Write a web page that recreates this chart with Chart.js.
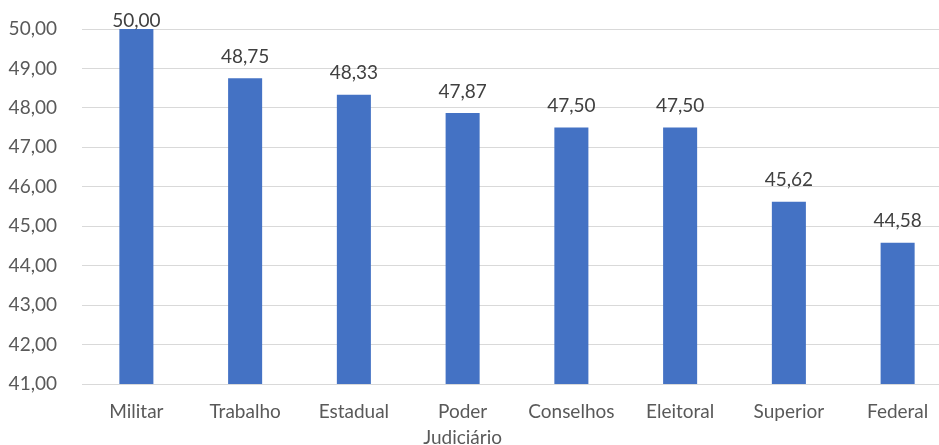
<!DOCTYPE html>
<html>
<head>
<meta charset="utf-8">
<script src="https://cdn.jsdelivr.net/npm/chart.js@4/dist/chart.umd.min.js"></script>
<style>
html,body{margin:0;padding:0;background:#fff;overflow:hidden;width:939px;height:445px;}
#wrap{position:absolute;left:0;top:0;width:952px;height:445px;}
</style>
</head>
<body>
<div id="wrap"><canvas id="c"></canvas></div>
<script>
const categories = ["Militar", "Trabalho", "Estadual", ["Poder", "Judiciário"], "Conselhos", "Eleitoral", "Superior", "Federal"];
const values = [50.00, 48.75, 48.33, 47.87, 47.50, 47.50, 45.62, 44.58];
const yMin = 41;
const yMax = 50;
const yStep = 1;

const fmt = v => v.toFixed(2).replace('.', ',');
const FONT = "Lato, 'Open Sans', sans-serif";

const labelPlugin = {
  id: 'barLabels',
  afterDatasetsDraw(chart) {
    const ctx = chart.ctx;
    const meta = chart.getDatasetMeta(0);
    ctx.save();
    ctx.font = "19px " + FONT;
    ctx.fillStyle = '#404040';
    ctx.textAlign = 'center';
    ctx.textBaseline = 'bottom';
    meta.data.forEach((bar, i) => {
      let y = bar.y - 12;
      if (y < 30) y = 30;
      ctx.fillText(fmt(values[i]), bar.x, y);
    });
    ctx.restore();
  }
};

new Chart(document.getElementById('c'), {
  type: 'bar',
  data: {
    labels: categories,
    datasets: [{
      data: values,
      backgroundColor: '#4472C4',
      borderWidth: 0,
      categoryPercentage: 1,
      barPercentage: 0.313
    }]
  },
  options: {
    responsive: true,
    maintainAspectRatio: false,
    animation: false,
    events: [],
    layout: { padding: { top: 29, right: 0, left: 0, bottom: 0 } },
    plugins: { legend: { display: false }, tooltip: { enabled: false } },
    scales: {
      x: {
        grid: { display: false, drawTicks: false },
        border: { display: false },
        ticks: {
          color: '#595959',
          font: { family: FONT, size: 19, lineHeight: 1.35 },
          padding: 15,
          maxRotation: 0,
          autoSkip: false
        },
        afterFit(scale) { scale.height = 61; scale.paddingLeft = 0; scale.paddingRight = 0; }
      },
      y: {
        min: yMin,
        max: yMax,
        grid: { color: '#d9d9d9', lineWidth: 1, drawTicks: false },
        border: { display: false },
        ticks: {
          stepSize: yStep,
          color: '#595959',
          font: { family: FONT, size: 19 },
          padding: 25,
          callback: v => fmt(v)
        },
        afterFit(scale) { scale.width = 82; scale.paddingTop = 0; scale.paddingBottom = 0; }
      }
    }
  },
  plugins: [labelPlugin]
});
</script>
</body>
</html>
